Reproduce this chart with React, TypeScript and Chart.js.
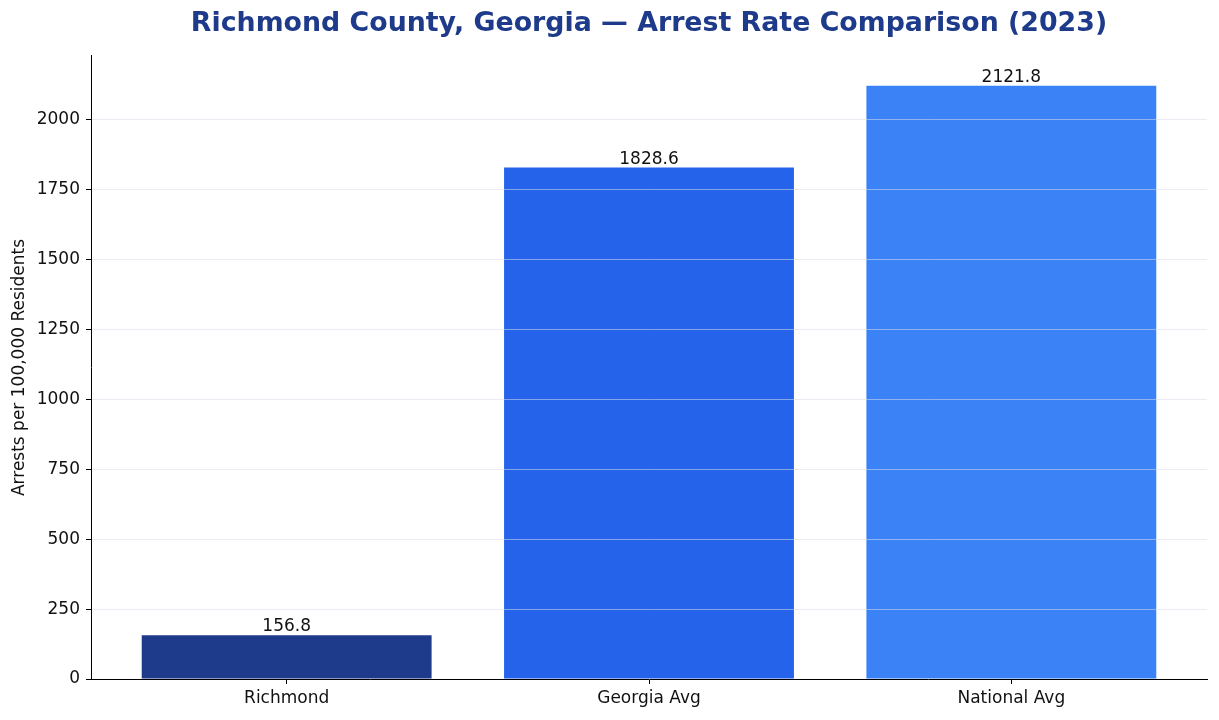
import { Chart, registerables } from 'chart.js';
import { useEffect, useRef } from 'react';

Chart.register(...registerables);

const categories = ['Richmond', 'Georgia Avg', 'National Avg'];
const arrestRates = [156.8, 1828.6, 2121.8];
const barColors = ['#1e3a8a', '#2563eb', '#3b82f6'];
const yTicks = [0, 250, 500, 750, 1000, 1250, 1500, 1750, 2000];

const FONT = "'DejaVu Sans', sans-serif";

const valueLabels = {
    id: 'valueLabels',
    afterDatasetsDraw(chart: Chart) {
        const { ctx } = chart;
        const meta = chart.getDatasetMeta(0);
        ctx.save();
        ctx.font = `17px ${FONT}`;
        ctx.fillStyle = '#111';
        ctx.textAlign = 'center';
        ctx.textBaseline = 'alphabetic';
        meta.data.forEach((bar: any, i: number) => {
            ctx.fillText(arrestRates[i].toFixed(1), bar.x, bar.y - 4);
        });
        ctx.restore();
    }
};

function ArrestRateChart() {
    const canvasRef = useRef<HTMLCanvasElement>(null);
    const chartRef = useRef<Chart | null>(null);

    useEffect(() => {
        document.body.style.margin = '0';
        if (!canvasRef.current) return;
        const ctx = canvasRef.current.getContext('2d');
        if (!ctx) return;

        if (chartRef.current) chartRef.current.destroy();

        chartRef.current = new Chart(ctx, {
            type: 'bar',
            data: {
                datasets: [{
                    data: arrestRates.map((v, i) => ({ x: i, y: v })),
                    backgroundColor: barColors,
                    borderWidth: 0,
                    barPercentage: 0.8,
                    categoryPercentage: 1
                }]
            },
            options: {
                responsive: true,
                maintainAspectRatio: false,
                animation: false,
                layout: { padding: { left: 0, right: 12, top: 0, bottom: 0 } },
                scales: {
                    x: {
                        type: 'linear',
                        min: -0.54,
                        max: 2.54,
                        offset: false,
                        afterBuildTicks: (scale: any) => {
                            scale.ticks = categories.map((_, i) => ({ value: i }));
                        },
                        afterFit: (scale: any) => { scale.height = 41; },
                        grid: {
                            offset: false,
                            drawOnChartArea: false,
                            drawTicks: true,
                            tickLength: 5,
                            tickColor: '#000'
                        },
                        border: { color: '#000', width: 1, z: 2 },
                        ticks: {
                            padding: 4,
                            color: '#111',
                            font: { family: FONT, size: 17 },
                            callback: (v: any) => categories[v] ?? ''
                        }
                    },
                    y: {
                        min: 0,
                        max: 2121.8 * 1.05,
                        afterBuildTicks: (scale: any) => {
                            scale.ticks = yTicks.map(v => ({ value: v }));
                        },
                        afterFit: (scale: any) => { scale.width = 91; },
                        grid: {
                            z: 1,
                            color: (c: any) => (c.tick && c.tick.value === 0 ? 'rgba(0,0,0,0)' : 'rgba(215,220,232,0.55)'),
                            lineWidth: 1,
                            tickLength: 5,
                            tickColor: '#000'
                        },
                        border: { color: '#000', width: 1, z: 2 },
                        ticks: {
                            padding: 6,
                            color: '#111',
                            font: { family: FONT, size: 17 },
                            callback: (v: any) => String(v)
                        },
                        title: {
                            display: true,
                            text: 'Arrests per 100,000 Residents',
                            color: '#111',
                            font: { family: FONT, size: 17 },
                            padding: { top: 9, bottom: 0 }
                        }
                    }
                },
                plugins: {
                    legend: { display: false },
                    tooltip: { enabled: false },
                    title: {
                        display: true,
                        text: 'Richmond County, Georgia — Arrest Rate Comparison (2023)',
                        color: '#1e3a8a',
                        fullSize: false,
                        font: { family: FONT, size: 26.8, weight: 'bold', lineHeight: 1.2 },
                        padding: { top: 8, bottom: 15.8 }
                    }
                }
            },
            plugins: [valueLabels]
        });

        return () => {
            if (chartRef.current) {
                chartRef.current.destroy();
                chartRef.current = null;
            }
        };
    }, []);

    return (
        <div style={{ width: 1219, height: 720 }}>
            <canvas ref={canvasRef} />
        </div>
    );
}

export default function App() {
    return <ArrestRateChart />;
}
